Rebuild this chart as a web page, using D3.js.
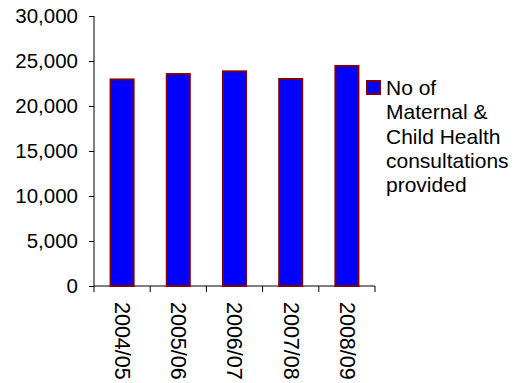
<!DOCTYPE html>
<html>
<head>
<meta charset="utf-8">
<script src="https://cdn.jsdelivr.net/npm/d3@7"></script>
<style>
  body { margin: 0; background: #fff; }
  text { font-family: "Liberation Sans", Arial, sans-serif; fill: #000; }
</style>
</head>
<body>
<svg id="chart" width="516" height="383"></svg>
<script>
// data
var years = ["2004/05", "2005/06", "2006/07", "2007/08", "2008/09"];
var consultations = [22950, 23550, 23850, 23000, 24450];
var yTicks = [0, 5000, 10000, 15000, 20000, 25000, 30000];
var legendLines = ["No of", "Maternal &", "Child Health", "consultations", "provided"];

var svg = d3.select("#chart");

var plot = { left: 94, right: 375, top: 16, bottom: 286 };

var xScale = d3.scaleBand()
    .domain(years)
    .range([plot.left, plot.right])
    .paddingInner(0.59)
    .paddingOuter(0.295);

var yScale = d3.scaleLinear()
    .domain([0, 30000])
    .range([plot.bottom, plot.top]);

// y axis
var yAxis = svg.append("g")
    .attr("transform", "translate(" + plot.left + ",0)")
    .call(d3.axisLeft(yScale).tickValues(yTicks).tickSize(5).tickPadding(11)
        .tickFormat(d3.format(",")));
yAxis.selectAll("text").style("font-size", "20.5px");
yAxis.select(".domain").attr("d", "M0," + plot.top + "V" + plot.bottom);
yAxis.selectAll("line, path").attr("stroke", "#000");

// x axis - ticks sit between categories
var xAxis = svg.append("g")
    .attr("transform", "translate(0," + plot.bottom + ")");
xAxis.append("line")
    .attr("x1", plot.left).attr("x2", plot.right)
    .attr("stroke", "#000");
var bounds = years.map(function(d){ return xScale(d) - xScale.step() * xScale.paddingInner() / 2; });
bounds.push(plot.right);
xAxis.selectAll(".tk")
    .data(bounds)
    .enter().append("line")
    .attr("x1", d=>d).attr("x2", d=>d)
    .attr("y1", 0).attr("y2", 6)
    .attr("stroke", "#000");
xAxis.selectAll(".lbl")
    .data(years)
    .enter().append("text")
    .attr("transform", d => "translate(" + (xScale(d) + xScale.bandwidth() / 2 + 0.5) + ",16) rotate(90)")
    .attr("dy", "0.35em")
    .style("font-size", "21.5px")
    .text(d => d);

// bars
svg.selectAll(".bar")
    .data(consultations)
    .enter().append("rect")
    .attr("x", (d, i) => xScale(years[i]))
    .attr("y", d => yScale(d))
    .attr("width", xScale.bandwidth())
    .attr("height", d => plot.bottom - yScale(d))
    .attr("fill", "#0000ff")
    .attr("stroke", "#800000")
    .attr("stroke-width", 2);

// legend
var legend = svg.append("g").attr("transform", "translate(366,80)");
legend.append("rect")
    .attr("x", 1).attr("y", 1)
    .attr("width", 13).attr("height", 13)
    .attr("fill", "#0000ff")
    .attr("stroke", "#800000")
    .attr("stroke-width", 2);
legend.selectAll("text")
    .data(legendLines)
    .enter().append("text")
    .attr("x", 20)
    .attr("y", (d, i) => 15 + i * 24.3)
    .style("font-size", "21px")
    .text(d => d);
</script>
</body>
</html>
